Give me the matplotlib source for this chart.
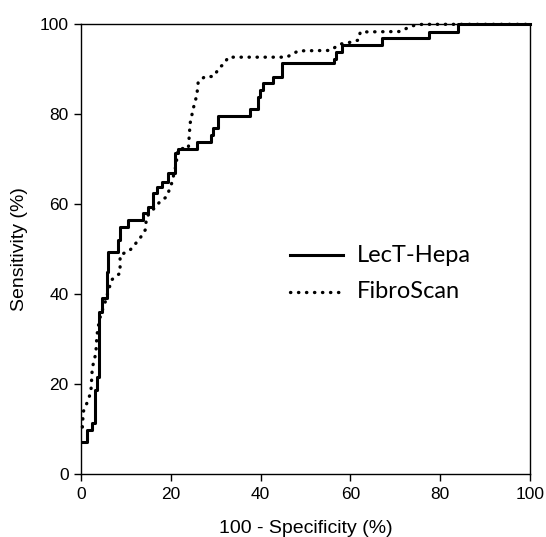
import matplotlib
matplotlib.use("Agg")
import matplotlib.pyplot as plt

# LecT-Hepa ROC (step curve, steps-post): 100 - specificity vs sensitivity
lect_fpr = [0.45, 1.27, 2.38, 3.12, 3.5, 4.0, 4.6, 5.7, 6.1, 8.3, 8.7, 10.5,
            13.9, 14.9, 16.0, 16.9, 18.0, 19.4, 20.9, 21.7, 25.8, 28.9, 29.5,
            30.6, 37.6, 39.5, 39.9, 40.5, 42.8, 44.7, 56.4, 56.9, 58.1, 67.0,
            77.6, 84.0, 100]
lect_tpr = [7.2, 9.8, 11.4, 18.7, 21.7, 36.1, 39.2, 45.0, 49.5, 52.1, 55.0,
            56.5, 58.1, 59.5, 62.5, 63.9, 65.0, 66.9, 71.3, 72.4, 73.9, 75.4,
            76.9, 79.6, 81.1, 83.9, 85.4, 86.9, 88.4, 91.3, 92.4, 93.9, 95.4,
            96.9, 98.4, 100, 100]

# FibroScan ROC
fibro_fpr = [0.3, 0.5, 1.6, 2.2, 2.4, 2.5, 3.3, 3.5, 3.7, 4.2, 4.6, 5.3, 6.8,
             8.7, 8.7, 10.9, 13.1, 14.3, 14.6, 17.6, 19.1, 20.2, 21.0, 21.7,
             23.9, 24.3, 25.0, 25.8, 26.1, 27.6, 29.5, 31.0, 31.7, 32.8, 45.8,
             48.4, 55.5, 57.7, 59.9, 61.8, 62.2, 71.0, 72.5, 74.0, 76.0, 100]
fibro_tpr = [10.5, 13.9, 16.5, 18.4, 21.7, 23.6, 26.9, 30.2, 32.1, 34.7, 36.1,
             38.0, 43.2, 44.7, 48.7, 49.8, 52.4, 54.3, 57.2, 60.6, 61.7, 64.7,
             68.0, 72.4, 72.4, 78.0, 81.3, 84.3, 87.2, 88.4, 88.4, 90.6, 91.0,
             92.7, 92.7, 94.1, 94.2, 95.6, 96.0, 96.5, 98.3, 98.4, 99.1, 99.7,
             100, 100]

labels = ["LecT-Hepa", "FibroScan"]
x_ticks = [0, 20, 40, 60, 80, 100]
y_ticks = [0, 20, 40, 60, 80, 100]

fig = plt.figure(figsize=(5.46, 5.37), dpi=100)
ax = fig.add_axes([0.1484, 0.1168, 0.8223, 0.8379])

dot_style = (0, (0.1, 2.3))
ax.plot(fibro_fpr, fibro_tpr, color="black", lw=2.4, linestyle=dot_style,
        dash_capstyle="round", clip_on=False)
ax.plot(lect_fpr, lect_tpr, color="black", lw=2.2, drawstyle="steps-post",
        clip_on=False)

ax.set_xlim(0, 100)
ax.set_ylim(0, 100)
ax.set_xticks(x_ticks)
ax.set_yticks(y_ticks)
tick_font = "Liberation Sans"
ax.set_xticklabels([str(t) for t in x_ticks], fontfamily=tick_font, fontsize=12.5)
ax.set_yticklabels([str(t) for t in y_ticks], fontfamily=tick_font, fontsize=12.5)
ax.tick_params(direction="out", length=5, width=1, pad=4)
for s in ax.spines.values():
    s.set_linewidth(1)
ax.set_xlabel("100 - Specificity (%)", fontfamily=tick_font, fontsize=14, labelpad=13)
ax.set_ylabel("Sensitivity (%)", fontfamily=tick_font, fontsize=14, labelpad=8)

# Legend drawn manually inside the plot
ax.plot([46.5, 58.4], [48.7, 48.7], color="black", lw=2.2)
ax.plot([46.5, 58.4], [40.6, 40.6], color="black", lw=2.4, linestyle=dot_style,
        dash_capstyle="round")
ax.text(61.5, 48.7, labels[0], fontfamily="Lato", fontsize=17, va="center", ha="left")
ax.text(61.5, 40.6, labels[1], fontfamily="Lato", fontsize=17, va="center", ha="left")

fig.savefig("out.png", dpi=100)
